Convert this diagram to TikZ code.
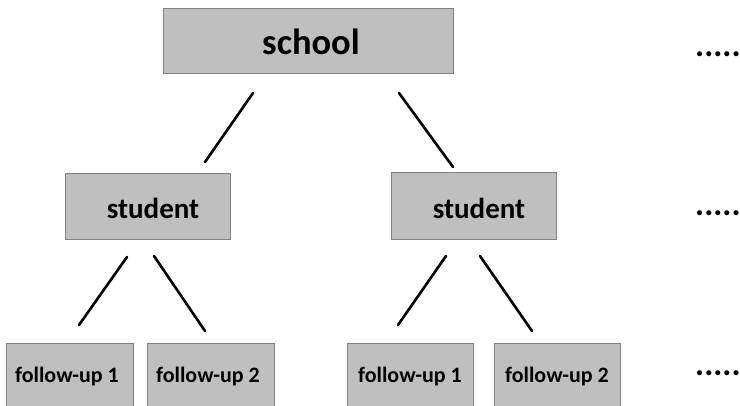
\documentclass[tikz,border=0pt]{standalone}
\usepackage{fontspec}
\setmainfont{Carlito}
\begin{document}
\begin{tikzpicture}[x=1pt,y=-1pt,
  box/.style={draw=black!50,line width=0.8pt,fill=black!25,inner sep=0pt},
  lbl/.style={font=\bfseries,inner sep=0pt,anchor=center},
  link/.style={line width=2.6pt,line cap=round},
  dots/.style={font=\bfseries\fontsize{34}{34}\selectfont,inner sep=0pt,anchor=base west}]
\useasboundingbox (0,0) rectangle (740,406);
\clip (0,0) rectangle (740,406);
\node[box,minimum width=290,minimum height=65] (school) at (308,41) {};
\node[lbl,font=\bfseries\fontsize{36.5}{36.5}\selectfont] (tschool) at (311,42) {school};
\node[box,minimum width=165,minimum height=66] (s1) at (147.5,206) {};
\node[lbl,font=\bfseries\fontsize{29}{29}\selectfont] (ts1) at (153,208) {student};
\node[box,minimum width=165,minimum height=67] (s2) at (473.5,206) {};
\node[lbl,font=\bfseries\fontsize{29}{29}\selectfont] (ts2) at (479,208) {student};
\node[box,minimum width=127,minimum height=80] (f1) at (69.5,383) {};
\node[box,minimum width=127,minimum height=80] (f2) at (210.5,383) {};
\node[box,minimum width=126,minimum height=80] (f3) at (410,383) {};
\node[box,minimum width=126,minimum height=80] (f4) at (557,383) {};
\node[lbl,font=\bfseries\fontsize{22}{22}\selectfont] (tf1) at (67,377) {follow-up 1};
\node[lbl,font=\bfseries\fontsize{22}{22}\selectfont] (tf2) at (208,377) {follow-up 2};
\node[lbl,font=\bfseries\fontsize{22}{22}\selectfont] (tf3) at (410,377) {follow-up 1};
\node[lbl,font=\bfseries\fontsize{22}{22}\selectfont] (tf4) at (557,377) {follow-up 2};
\coordinate (a1) at (253,93);  \coordinate (a2) at (205,162);
\coordinate (b1) at (399,93);  \coordinate (b2) at (453,167);
\coordinate (c1) at (127,257); \coordinate (c2) at (79,325);
\coordinate (d1) at (154,256); \coordinate (d2) at (205,331);
\coordinate (e1) at (446,256); \coordinate (e2) at (398,325);
\coordinate (g1) at (480,256); \coordinate (g2) at (532,331);
\draw[link] (a1) -- (a2);
\draw[link] (b1) -- (b2);
\draw[link] (c1) -- (c2);
\draw[link] (d1) -- (d2);
\draw[link] (e1) -- (e2);
\draw[link] (g1) -- (g2);
\node[dots] (dt1) at (695,57) {.....};
\node[dots] (dt2) at (695,216) {.....};
\node[dots] (dt3) at (695,376) {.....};
\end{tikzpicture}
\end{document}
